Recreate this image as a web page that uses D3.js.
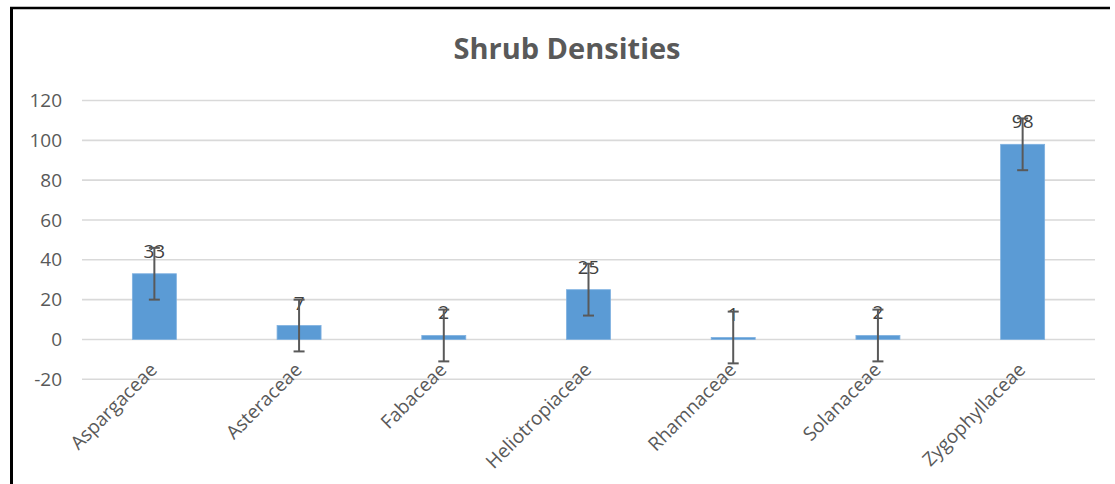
<!DOCTYPE html>
<html>
<head>
<meta charset="utf-8">
<script src="https://cdn.jsdelivr.net/npm/d3@7"></script>
<style>
  html, body { margin: 0; padding: 0; background: #fff; }
  svg { display: block; }
  text { font-family: "Open Sans", Lato, sans-serif; }
</style>
</head>
<body>
<svg id="chart" width="1115" height="484"></svg>
<script>
const categories = ["Aspargaceae", "Asteraceae", "Fabaceae", "Heliotropiaceae", "Rhamnaceae", "Solanaceae", "Zygophyllaceae"];
const values = [33, 7, 2, 25, 1, 2, 98];
const errors = [13, 13, 13, 13, 13, 13, 13];
const yTicks = [-20, 0, 20, 40, 60, 80, 100, 120];
const title = "Shrub Densities";

const FONT = "'Open Sans', Lato, sans-serif";
const svg = d3.select("#chart");

// chart frame (top and left edges visible)
svg.append("line").attr("x1", 10).attr("x2", 1110).attr("y1", 8).attr("y2", 8)
  .attr("stroke", "#000").attr("stroke-width", 2.5);
svg.append("line").attr("x1", 11.5).attr("x2", 11.5).attr("y1", 7).attr("y2", 484)
  .attr("stroke", "#000").attr("stroke-width", 3);

const x = d3.scaleBand().domain(categories).range([82, 1095])
  .paddingInner(0.696).paddingOuter(0.348);
const y = d3.scaleLinear().domain([-20, 120]).range([379.3, 100.5]);

// gridlines
svg.append("g").selectAll("line").data(yTicks).join("line")
  .attr("x1", 82).attr("x2", 1095)
  .attr("y1", d => y(d)).attr("y2", d => y(d))
  .attr("stroke", "#d9d9d9").attr("stroke-width", 1.6);

// y axis labels
const yAxis = d3.axisLeft(y).tickValues(yTicks).tickSize(0).tickPadding(0)
  .tickFormat(d => String(d));
const gy = svg.append("g").attr("transform", "translate(62,0)").call(yAxis);
gy.select(".domain").remove();
gy.selectAll("text").attr("fill", "#595959").style("font-size", "19px")
  .style("font-family", FONT);

// bars
svg.append("g").selectAll("rect").data(values).join("rect")
  .attr("x", (d, i) => x(categories[i]))
  .attr("width", x.bandwidth())
  .attr("y", d => y(Math.max(0, d)))
  .attr("height", d => Math.abs(y(d) - y(0)))
  .attr("fill", "#5b9bd5")
  .attr("stroke", "#7fb1e0").attr("stroke-width", 0.8);

// value labels
svg.append("g").selectAll("text").data(values).join("text")
  .attr("x", (d, i) => x(categories[i]) + x.bandwidth() / 2)
  .attr("y", d => y(d) - 16)
  .attr("text-anchor", "middle")
  .attr("fill", "#404040")
  .style("font-size", "19px")
  .text(d => d);

// error bars
const eg = svg.append("g").attr("stroke", "#595959").attr("stroke-width", 2);
values.forEach((v, i) => {
  const cx = x(categories[i]) + x.bandwidth() / 2;
  const lo = y(v - errors[i]), hi = y(v + errors[i]);
  eg.append("line").attr("x1", cx).attr("x2", cx).attr("y1", lo).attr("y2", hi);
  eg.append("line").attr("x1", cx - 5.5).attr("x2", cx + 5.5).attr("y1", lo).attr("y2", lo);
  eg.append("line").attr("x1", cx - 5.5).attr("x2", cx + 5.5).attr("y1", hi).attr("y2", hi);
});

// category labels
svg.append("g").selectAll("text").data(categories).join("text")
  .attr("transform", d => `translate(${x(d) + x.bandwidth() / 2 + 4},371) rotate(-45)`)
  .attr("text-anchor", "end")
  .attr("fill", "#595959")
  .style("font-size", "19px")
  .text(d => d);

// title
svg.append("text").attr("x", 567).attr("y", 59)
  .attr("text-anchor", "middle")
  .attr("fill", "#595959")
  .style("font-size", "29px").style("font-weight", "bold")
  .text(title);
</script>
</body>
</html>
